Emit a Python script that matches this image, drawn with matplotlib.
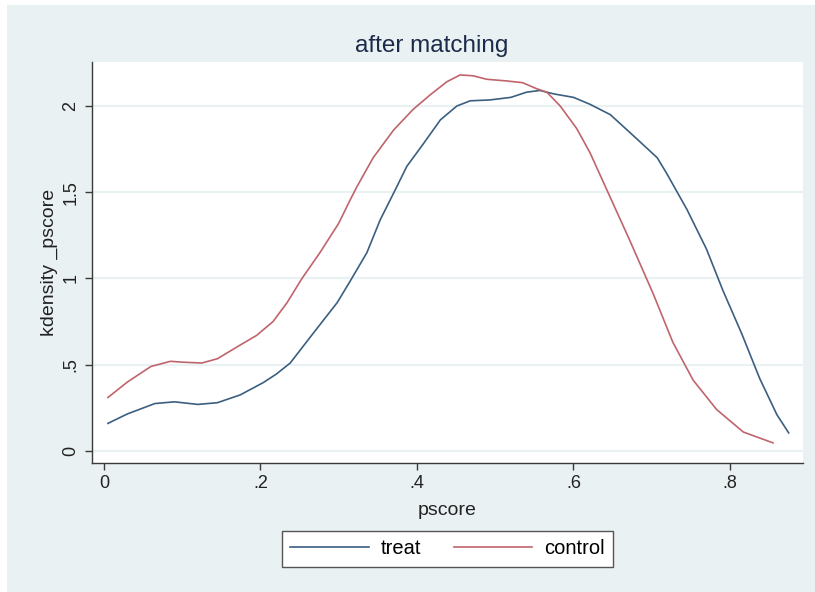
import matplotlib
matplotlib.use("Agg")
import matplotlib.pyplot as plt
from matplotlib.patches import Rectangle
from matplotlib.lines import Line2D

plt.rcParams['font.family'] = ['Liberation Sans', 'DejaVu Sans']

title = "after matching"
x_label = "pscore"
y_label = "kdensity _pscore"
series_names = ["treat", "control"]

x_ticks = [0, 0.2, 0.4, 0.6, 0.8]
x_tick_labels = ["0", ".2", ".4", ".6", ".8"]
y_ticks = [0, 0.5, 1, 1.5, 2]
y_tick_labels = ["0", ".5", "1", "1.5", "2"]

treat_x = [0.005, 0.03, 0.065, 0.09, 0.12, 0.145, 0.174, 0.203, 0.22, 0.238, 0.267,
           0.298, 0.314, 0.336, 0.353, 0.374, 0.387, 0.408, 0.43, 0.451, 0.468, 0.493,
           0.52, 0.54, 0.557, 0.575, 0.6, 0.621, 0.647, 0.676, 0.707, 0.719, 0.745,
           0.77, 0.791, 0.815, 0.838, 0.86, 0.875]
treat_y = [0.16, 0.215, 0.275, 0.285, 0.27, 0.28, 0.325, 0.395, 0.445, 0.51, 0.68,
           0.86, 0.98, 1.15, 1.34, 1.53, 1.65, 1.78, 1.92, 2.0, 2.03, 2.035,
           2.05, 2.08, 2.09, 2.07, 2.05, 2.01, 1.95, 1.83, 1.70, 1.61, 1.40,
           1.17, 0.93, 0.68, 0.42, 0.21, 0.105]

control_x = [0.005, 0.03, 0.06, 0.085, 0.1, 0.125, 0.145, 0.174, 0.195, 0.216, 0.234,
             0.253, 0.276, 0.3, 0.314, 0.323, 0.344, 0.37, 0.395, 0.417, 0.438, 0.455,
             0.472, 0.489, 0.515, 0.535, 0.553, 0.566, 0.583, 0.604, 0.621, 0.647,
             0.672, 0.702, 0.727, 0.753, 0.783, 0.817, 0.855]
control_y = [0.31, 0.40, 0.49, 0.52, 0.515, 0.51, 0.535, 0.614, 0.67, 0.75, 0.86,
             1.0, 1.15, 1.32, 1.45, 1.53, 1.70, 1.86, 1.98, 2.065, 2.14, 2.18,
             2.175, 2.155, 2.145, 2.135, 2.10, 2.08, 2.0, 1.87, 1.73, 1.47,
             1.22, 0.91, 0.63, 0.41, 0.24, 0.11, 0.047]

treat_color = "#3b5f80"
control_color = "#c0646c"
bg_color = "#eaf1f3"
W, H = 815, 592

fig = plt.figure(figsize=(W / 100, H / 100), dpi=100, facecolor="white")
fig.patches.append(Rectangle((7 / W, 0), 1 - 7 / W, 1 - 5 / H, transform=fig.transFigure,
                             facecolor=bg_color, edgecolor="none", zorder=-10))

ax = fig.add_axes([92 / W, 1 - 463 / H, (803 - 92) / W, (463 - 62) / H])
ax.set_zorder(1)
ax.set_facecolor("white")
ax.plot(treat_x, treat_y, color=treat_color, lw=1.2, zorder=3, solid_joinstyle="round")
ax.plot(control_x, control_y, color=control_color, lw=1.2, zorder=3, solid_joinstyle="round")

ax.set_xlim(-0.0153, 0.8933)
ax.set_ylim(-0.0696, 2.255)
ax.set_xticks(x_ticks)
ax.set_xticklabels(x_tick_labels)
ax.set_yticks(y_ticks)
ax.set_yticklabels(y_tick_labels, rotation=90, va="center")
ax.grid(axis="y", color=bg_color, lw=1.6, zorder=1)
ax.set_axisbelow(True)

for s in ["top", "right"]:
    ax.spines[s].set_visible(False)
for s in ["left", "bottom"]:
    ax.spines[s].set_color("#3a3a3a")
    ax.spines[s].set_linewidth(1.0)
ax.tick_params(axis="both", length=5, width=1.0, color="#3a3a3a", labelsize=13,
               labelcolor="#222222", pad=4)

fig.text(432 / W, 1 - 46 / H, title, fontsize=17.5, color="#1c2b4a", ha="center", va="center")
ax.set_xlabel(x_label, fontsize=14, color="#222222", labelpad=7)
ax.set_ylabel(y_label, fontsize=14, color="#222222", labelpad=3)

handles = [Line2D([], [], color=treat_color, lw=1.2),
           Line2D([], [], color=control_color, lw=1.2)]
leg = fig.legend(handles, series_names, loc="center", bbox_to_anchor=(447.5 / W, 1 - 549 / H),
                 ncol=2, fontsize=14.5, frameon=True, fancybox=False, framealpha=1,
                 edgecolor="#555555", handlelength=3.9, handletextpad=0.6,
                 columnspacing=1.6, borderpad=0.4)
leg.get_frame().set_linewidth(1.0)

fig.savefig("out.png", dpi=100, facecolor="white")
